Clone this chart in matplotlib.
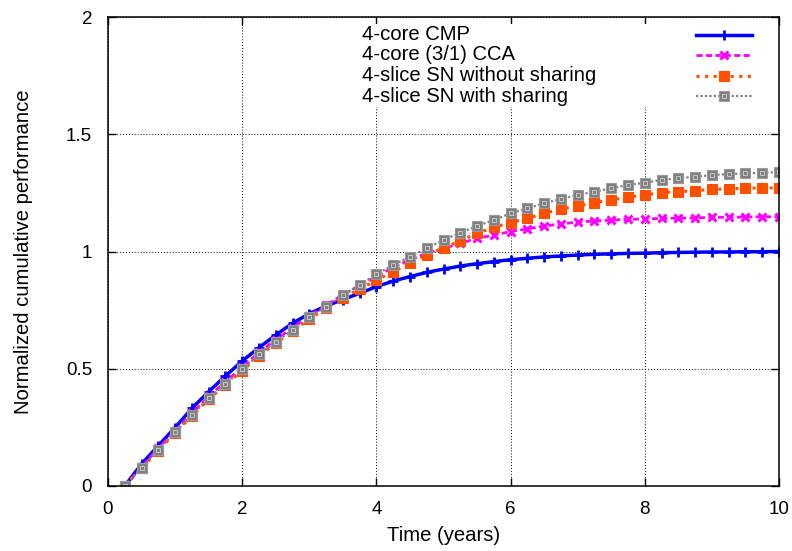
import matplotlib
matplotlib.use("Agg")
import matplotlib.pyplot as plt
from matplotlib.patches import Rectangle
from matplotlib.lines import Line2D
import numpy as np

plt.rcParams['font.family'] = ['Liberation Sans', 'DejaVu Sans']

time = [0.25, 0.5, 0.75, 1.0, 1.25, 1.5, 1.75, 2.0, 2.25, 2.5, 2.75, 3.0, 3.25, 3.5,
        3.75, 4.0, 4.25, 4.5, 4.75, 5.0, 5.25, 5.5, 5.75, 6.0, 6.25, 6.5, 6.75, 7.0,
        7.25, 7.5, 7.75, 8.0, 8.25, 8.5, 8.75, 9.0, 9.25, 9.5, 9.75, 10.0]

cmp4 = [0.0, 0.094, 0.172, 0.249, 0.331, 0.402, 0.469, 0.533, 0.59, 0.644, 0.694, 0.735,
        0.768, 0.795, 0.822, 0.85, 0.874, 0.893, 0.911, 0.925, 0.938, 0.948, 0.957, 0.965,
        0.971, 0.977, 0.981, 0.985, 0.988, 0.99, 0.992, 0.993, 0.995, 0.996, 0.997, 0.998,
        0.998, 0.999, 0.999, 1.0]

cca = [0.0, 0.082, 0.16, 0.236, 0.31, 0.382, 0.444, 0.506, 0.57, 0.624, 0.674, 0.726,
       0.77, 0.816, 0.855, 0.893, 0.933, 0.964, 0.992, 1.013, 1.035, 1.056, 1.07, 1.085,
       1.096, 1.109, 1.117, 1.126, 1.13, 1.134, 1.137, 1.139, 1.141, 1.142, 1.143, 1.146,
       1.146, 1.147, 1.148, 1.148]

sn_noshare = [0.0, 0.076, 0.151, 0.226, 0.299, 0.37, 0.431, 0.492, 0.555, 0.609, 0.659,
              0.712, 0.758, 0.803, 0.839, 0.878, 0.914, 0.95, 0.985, 1.015, 1.046, 1.078,
              1.103, 1.123, 1.141, 1.163, 1.18, 1.194, 1.208, 1.22, 1.231, 1.241, 1.251,
              1.255, 1.259, 1.265, 1.267, 1.27, 1.271, 1.272]

sn_share = [0.0, 0.078, 0.154, 0.229, 0.303, 0.374, 0.435, 0.497, 0.561, 0.615, 0.665,
            0.719, 0.765, 0.814, 0.857, 0.904, 0.942, 0.978, 1.015, 1.049, 1.08, 1.109,
            1.134, 1.163, 1.184, 1.206, 1.224, 1.241, 1.255, 1.269, 1.284, 1.293, 1.305,
            1.312, 1.319, 1.326, 1.33, 1.333, 1.336, 1.338]

labels = ["4-core CMP", "4-core (3/1) CCA", "4-slice SN without sharing", "4-slice SN with sharing"]
xticks = [0, 2, 4, 6, 8, 10]
yticks = [0, 0.5, 1, 1.5, 2]
ytick_labels = ["0", "0.5", "1", "1.5", "2"]

FS_TICK = 13.5
FS_TEXT = 14.6
W, H = 792, 551
fig = plt.figure(figsize=(W / 100, H / 100), dpi=100)
L, R, T, B = 108, 779, 17, 486
ax = fig.add_axes([L / W, (H - B) / H, (R - L) / W, (B - T) / H])

styles = [
    dict(color='#0000ff', lw=2.5, ls='-', marker='+', ms=6.5, mew=2.0),
    dict(color='#ff00ff', lw=2.0, ls=(0, (2.2, 1.2)), marker='x', ms=5.5, mew=2.2),
    dict(color='#ff5000', lw=2.2, ls=(0, (1, 1.8)), marker='s', ms=6.5, mew=0.8, mec='#ff5000'),
    dict(color='#808080', lw=1.6, ls=(0, (1, 1)), marker='s', ms=7.2, mew=0.8, mec='#9a9a9a'),
]
series = [cmp4, cca, sn_noshare, sn_share]
for s, st in zip(series, styles):
    ax.plot(time, s, zorder=3, **st)
# inner highlight of the grey square markers
ax.plot(time, sn_share, ls='none', marker='s', ms=3.0, mfc='none', mec='#c8c8c8', mew=0.7, zorder=4)

ax.set_xlim(0, 10)
ax.set_ylim(0, 2)
ax.set_xticks(xticks)
ax.set_yticks(yticks)
ax.set_yticklabels(ytick_labels)
ax.grid(True, color='black', ls=(0, (1, 2)), lw=0.7, zorder=0)
ax.tick_params(direction='in', length=6, width=1, top=True, right=True, labelsize=FS_TICK, colors='black')
ax.tick_params(axis='x', pad=10.5)
ax.tick_params(axis='y', pad=11.5)
for sp in ax.spines.values():
    sp.set_linewidth(1.1)
    sp.set_zorder(5)

ax.set_xlabel("Time (years)", fontsize=FS_TEXT)
ax.set_ylabel("Normalized cumulative performance", fontsize=FS_TEXT)
ax.xaxis.set_label_coords(0.5, (B - 526) / (B - T))
ax.yaxis.set_label_coords((33 - L) / (R - L), 0.5)

# key (gnuplot-style: text left, sample on right)
def axx(px):
    return (px - L) / (R - L)

def axy(py):
    return (B - py) / (B - T)

ax.add_patch(Rectangle((axx(355), axy(107)), axx(778) - axx(355), axy(24) - axy(107),
                       transform=ax.transAxes, facecolor='white', edgecolor='none', zorder=2))
rows_py = [34.5, 55, 75.5, 96]
for lab, st, py in zip(labels, styles, rows_py):
    y = axy(py)
    ax.text(axx(362), y, lab, transform=ax.transAxes, fontsize=FS_TEXT, ha='left', va='center', zorder=6)
    line_kw = {k: v for k, v in st.items() if k not in ('marker', 'ms', 'mew', 'mec')}
    ax.add_line(Line2D([axx(696), axx(752)], [y, y], transform=ax.transAxes, zorder=6, **line_kw))
    mk = dict(marker=st['marker'], ms=st['ms'], mew=st['mew'], color=st['color'])
    if 'mec' in st:
        mk['mec'] = st['mec']
    ax.add_line(Line2D([axx(724)], [y], transform=ax.transAxes, ls='none', zorder=7, **mk))
ax.add_line(Line2D([axx(724)], [axy(rows_py[3])], transform=ax.transAxes, ls='none', marker='s',
                   ms=3.0, mfc='none', mec='#c8c8c8', mew=0.7, zorder=8))

fig.savefig("out.png", dpi=100)
